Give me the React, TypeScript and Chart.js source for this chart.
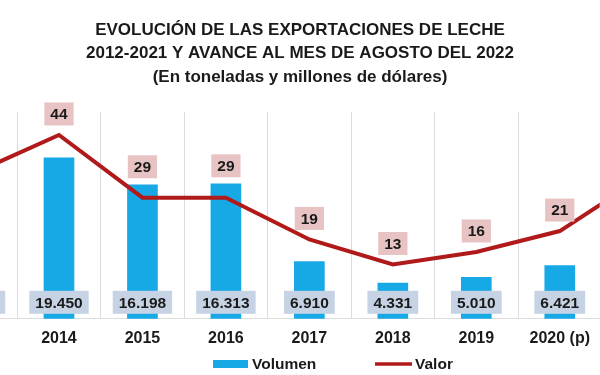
import React, { useEffect, useRef } from "react";
import { Chart, registerables } from "chart.js";

Chart.register(...registerables);

const years = [2013, 2014, 2015, 2016, 2017, 2018, 2019, 2020, 2021];
const yearLabels = ["2013", "2014", "2015", "2016", "2017", "2018", "2019", "2020 (p)", "2021"];
const volumen = [17500, 19450, 16198, 16313, 6910, 4331, 5010, 6421, 8000];
const valor = [35, 44, 29, 29, 19, 13, 16, 21, 34];
const titleLines = [
  "EVOLUCIÓN DE LAS EXPORTACIONES DE LECHE",
  "2012-2021 Y AVANCE AL MES DE AGOSTO DEL 2022",
  "(En toneladas y millones de dólares)",
];
const legendLabels = ["Volumen", "Valor"];

const FONT = "'Liberation Sans', Arial, sans-serif";
const BAR_COLOR = "#17a8e6";
const LINE_COLOR = "#b01a1a";
const PINK = "#e7c3c3";
const BLUEBOX = "#c6d3e4";
const TEXT = "#1a1a1a";

function fmtVol(v: number) {
  return v.toLocaleString("de-DE");
}

const labelPlugin = {
  id: "labelsAndLegend",
  afterDatasetsDraw(chart: any) {
    const ctx = chart.ctx;
    const area = chart.chartArea;
    const barMeta = chart.getDatasetMeta(0);
    const lineMeta = chart.getDatasetMeta(1);
    ctx.save();
    ctx.font = `bold 15.5px ${FONT}`;
    ctx.textAlign = "center";
    ctx.textBaseline = "middle";
    barMeta.data.forEach((bar: any, i: number) => {
      const txt = fmtVol(volumen[i]);
      const w = ctx.measureText(txt).width + 12;
      const h = 23;
      const cy = area.bottom - 16.5;
      ctx.fillStyle = BLUEBOX;
      ctx.fillRect(bar.x - w / 2, cy - h / 2, w, h);
      ctx.fillStyle = TEXT;
      ctx.fillText(txt, bar.x, cy + 1);
    });
    lineMeta.data.forEach((pt: any, i: number) => {
      const txt = String(valor[i]);
      const w = ctx.measureText(txt).width + 12;
      const h = 23;
      const bar = barMeta.data[i];
      const cy = Math.min(pt.y - 21, bar.y - 18);
      ctx.fillStyle = PINK;
      ctx.fillRect(pt.x - w / 2, cy - h / 2, w, h);
      ctx.fillStyle = TEXT;
      ctx.fillText(txt, pt.x, cy + 1);
    });
    ctx.restore();
  },
  afterDraw(chart: any) {
    const ctx = chart.ctx;
    ctx.save();
    ctx.font = `bold 15.5px ${FONT}`;
    ctx.textAlign = "left";
    ctx.textBaseline = "middle";
    const y = 364;
    ctx.fillStyle = BAR_COLOR;
    ctx.fillRect(213, y - 4, 35, 8);
    ctx.fillStyle = TEXT;
    ctx.fillText(legendLabels[0], 252, y + 1);
    ctx.strokeStyle = LINE_COLOR;
    ctx.lineWidth = 3.5;
    ctx.beginPath();
    ctx.moveTo(375, y);
    ctx.lineTo(412, y);
    ctx.stroke();
    ctx.fillText(legendLabels[1], 415, y + 1);
    ctx.restore();
  },
};

export default function App() {
  const ref = useRef<HTMLCanvasElement | null>(null);
  useEffect(() => {
    if (!ref.current) return;
    const chart = new Chart(ref.current, {
      type: "bar",
      data: {
        datasets: [
          {
            type: "bar",
            label: legendLabels[0],
            data: years.map((x, i) => ({ x, y: volumen[i] })),
            backgroundColor: BAR_COLOR,
            barThickness: 30,
            yAxisID: "y",
            order: 1,
          },
          {
            type: "line",
            label: legendLabels[1],
            data: years.map((x, i) => ({ x, y: valor[i] })),
            borderColor: LINE_COLOR,
            borderWidth: 4,
            pointRadius: 0,
            tension: 0,
            yAxisID: "y1",
            order: 0,
          } as any,
        ],
      },
      options: {
        animation: false,
        responsive: false,
        maintainAspectRatio: false,
        layout: { padding: { left: 0, right: 0, top: 0, bottom: 17 } },
        plugins: {
          legend: { display: false },
          tooltip: { enabled: false },
          title: {
            display: true,
            text: titleLines,
            color: TEXT,
            font: { family: FONT, size: 17, weight: "bold", lineHeight: 1.38 },
            padding: { top: 18.3, bottom: 23.3 },
          },
        },
        scales: {
          x: {
            type: "linear",
            offset: false,
            min: 2013.2934,
            max: 2020.479,
            afterBuildTicks(scale: any) {
              const ticks = [];
              for (let v = 2012.5; v <= 2021.5; v += 0.5) {
                if (v >= scale.min && v <= scale.max) ticks.push({ value: v });
              }
              scale.ticks = ticks;
            },
            ticks: {
              autoSkip: false,
              maxRotation: 0,
              padding: 10,
              color: TEXT,
              font: { family: FONT, size: 16, weight: "bold" },
              callback(value: any) {
                const idx = years.indexOf(value);
                return Number.isInteger(value) && idx >= 0 ? yearLabels[idx] : "";
              },
            },
            grid: {
              offset: false,
              drawTicks: false,
              color: (c: any) =>
                c.tick && Number.isInteger(c.tick.value) ? "rgba(0,0,0,0)" : "#dcdcdc",
              lineWidth: 1,
            },
            border: { display: true, color: "#dcdcdc" },
          },
          y: { display: false, min: 0, max: 25000 },
          y1: { display: false, min: 0, max: 49.5, position: "right" },
        },
      },
      plugins: [labelPlugin],
    });
    return () => chart.destroy();
  }, []);
  return (
    <div
      style={{
        position: "absolute",
        left: 0,
        top: 0,
        width: 600,
        height: 375,
        overflow: "hidden",
        background: "#ffffff",
      }}
    >
      <canvas ref={ref} width={600} height={375} style={{ display: "block" }} />
    </div>
  );
}
